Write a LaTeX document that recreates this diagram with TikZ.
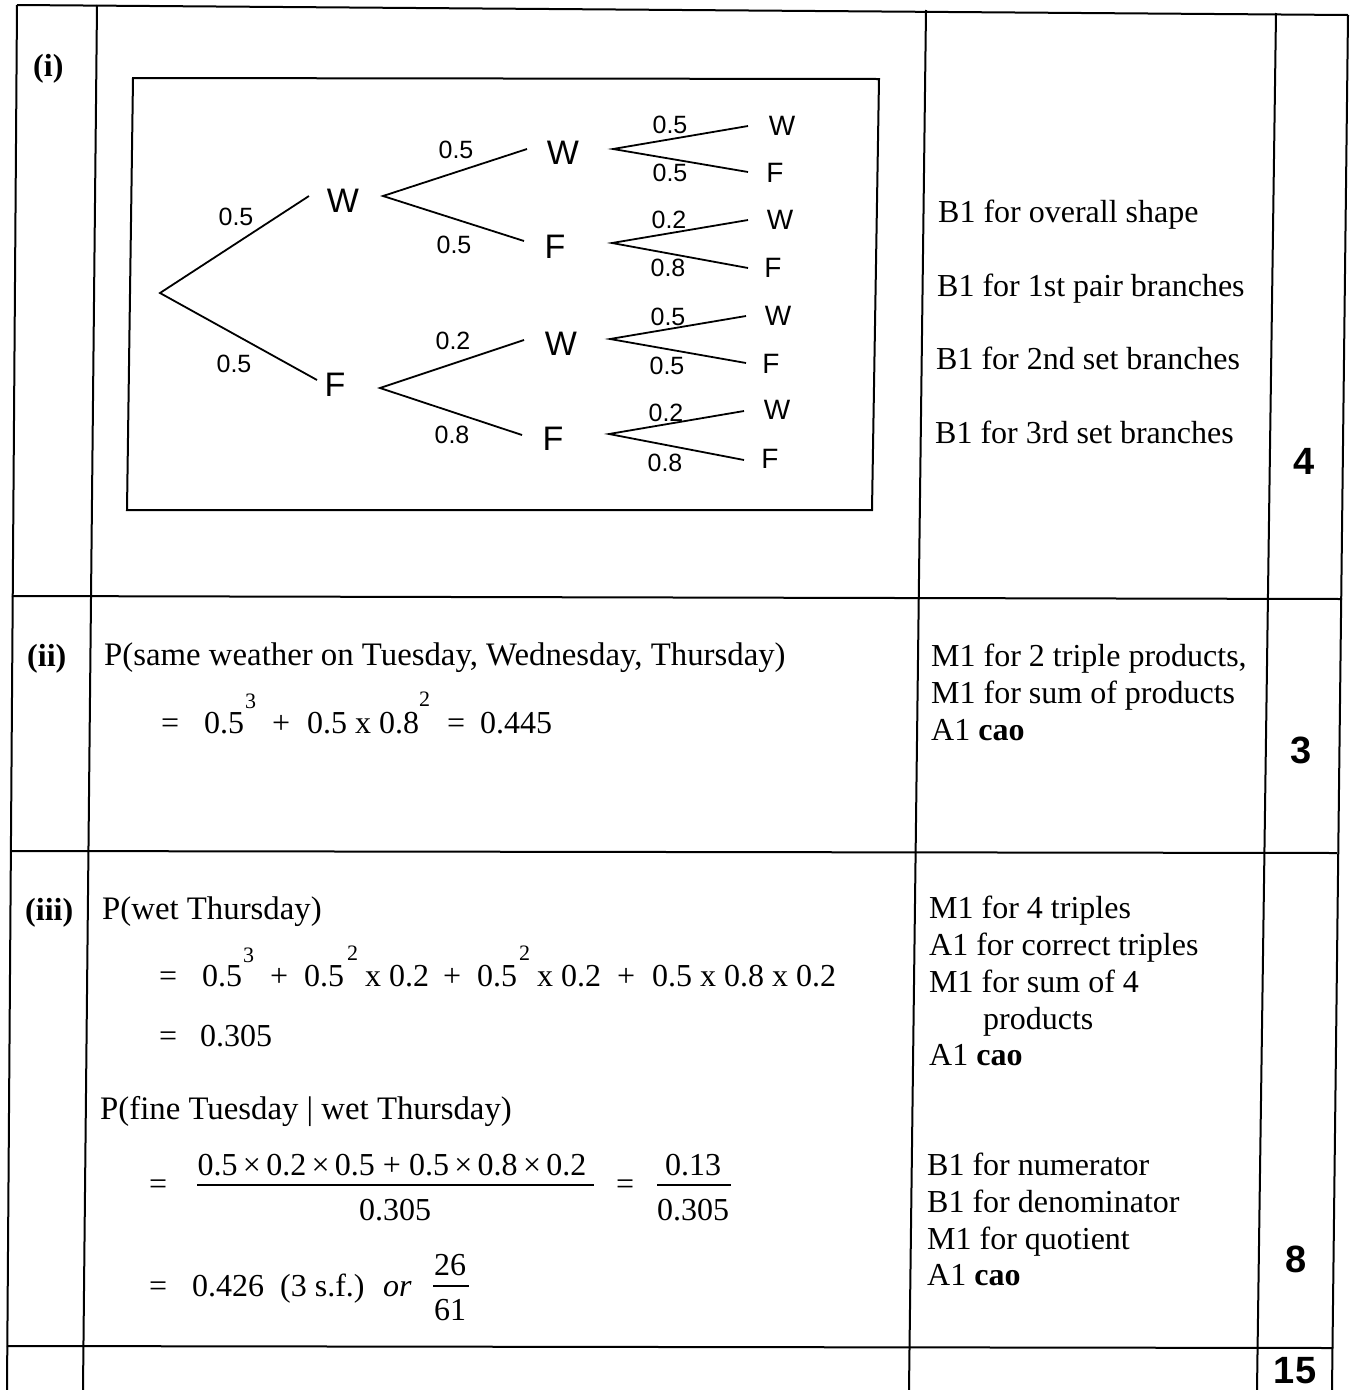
\documentclass[tikz,border=0pt]{standalone}
\usepackage{fontspec}
\setmainfont{Liberation Serif}
\newfontfamily\arial{Liberation Sans}
\begin{document}
\begin{tikzpicture}[x=1pt,y=-1pt,
  grid/.style={line width=2pt,black},
  br/.style={line width=1.8pt,black},
  tx/.style={anchor=base west,inner sep=0pt,font=\fontsize{32}{38}\selectfont},
  txl/.style={anchor=base west,inner sep=0pt,font=\fontsize{32.8}{38}\selectfont},
  txc/.style={anchor=base,inner sep=0pt,font=\fontsize{32}{38}\selectfont},
  sup/.style={anchor=base west,inner sep=0pt,font=\fontsize{22}{26}\selectfont},
  score/.style={anchor=base,inner sep=0pt,font=\arial\bfseries\fontsize{38}{44}\selectfont},
  lab/.style={inner sep=0pt,font=\arial\fontsize{25}{29}\selectfont},
  lt/.style={inner sep=0pt,font=\arial\fontsize{34}{40}\selectfont},
  lts/.style={inner sep=0pt,font=\arial\fontsize{28}{32}\selectfont}]
\useasboundingbox (0,0) rectangle (1351,1390);
\fill[white] (0,0) rectangle (1351,1390);
% ---- table grid ----
\draw[grid] (17,5) -- (7,1390);
\draw[grid] (97,5) -- (83,1390);
\draw[grid] (926,10) -- (909,1390);
\draw[grid] (1276,13) -- (1257,1390);
\draw[grid] (1348,15) -- (1332,1390);
\draw[grid] (17,5) -- (1348,15);
\draw[grid] (12,596) -- (1342,599);
\draw[grid] (11,851) -- (1337,853);
\draw[grid] (7,1346) -- (1333,1348);
% ---- part labels ----
\node[tx,font=\bfseries\fontsize{32}{38}\selectfont] (pi) at (33,76) {(i)};
\node[tx,font=\bfseries\fontsize{32}{38}\selectfont] (pii) at (27,666) {(ii)};
\node[tx,font=\bfseries\fontsize{32}{38}\selectfont] (piii) at (25,920) {(iii)};
% ---- tree box ----
\draw[line width=2pt] (133,78) -- (879,79) -- (872,510) -- (127,510) -- cycle;
% level 1
\coordinate (r) at (160,293);
\coordinate (e1) at (309,196);
\coordinate (e2) at (317,380);
\node[lt] (W1) at (343,201) {W};
\node[lt] (F1) at (335,385) {F};
\draw[br] (e1) -- (r) -- (e2);
\node[lab] (l1) at (236,217) {0.5};
\node[lab] (l2) at (234,364) {0.5};
% level 2
\coordinate (v1) at (383,196);
\coordinate (v2) at (380,388);
\coordinate (e11) at (527,149);
\coordinate (e12) at (524,241);
\coordinate (e21) at (524,340);
\coordinate (e22) at (522,435);
\draw[br] (e11) -- (v1) -- (e12);
\draw[br] (e21) -- (v2) -- (e22);
\node[lt] (W11) at (563,153) {W};
\node[lt] (F12) at (555,247) {F};
\node[lt] (W21) at (561,344) {W};
\node[lt] (F22) at (553,439) {F};
\node[lab] at (456,150) {0.5};
\node[lab] at (454,245) {0.5};
\node[lab] at (453,341) {0.2};
\node[lab] at (452,435) {0.8};
% level 3
\coordinate (u1) at (613,149);
\coordinate (u2) at (612,243);
\coordinate (u3) at (610,339);
\coordinate (u4) at (609,434);
\draw[br] (748,126) -- (u1) -- (748,172);
\draw[br] (748,220) -- (u2) -- (748,268);
\draw[br] (746,316) -- (u3) -- (746,363);
\draw[br] (744,411) -- (u4) -- (744,460);
\node[lts] at (782,126) {W};
\node[lts] at (775,173) {F};
\node[lts] at (780,220) {W};
\node[lts] at (773,268) {F};
\node[lts] at (778,316) {W};
\node[lts] at (771,364) {F};
\node[lts] at (777,410) {W};
\node[lts] at (770,459) {F};
\node[lab] at (670,125) {0.5};
\node[lab] at (670,173) {0.5};
\node[lab] at (669,220) {0.2};
\node[lab] at (668,268) {0.8};
\node[lab] at (668,317) {0.5};
\node[lab] at (667,366) {0.5};
\node[lab] at (666,413) {0.2};
\node[lab] at (665,463) {0.8};
% ---- right column (i) ----
\node[tx] (m1) at (938,222) {B1 for overall shape};
\node[tx] (m2) at (937,296) {B1 for 1st pair branches};
\node[tx] (m3) at (936,369) {B1 for 2nd set branches};
\node[tx] (m4) at (935,443) {B1 for 3rd set branches};
\node[score] (k1) at (1304,474) {4};
% ---- part (ii) ----
\node[txl] (q2) at (104,665) {P(same weather on Tuesday, Wednesday, Thursday)};
\node[tx] at (161,733) {=};
\node[tx] at (204,733) {0.5};
\node[sup] at (245,708) {3};
\node[tx] at (272,733) {+};
\node[tx] at (307,733) {0.5 x 0.8};
\node[sup] at (419,706) {2};
\node[tx] at (447,733) {=};
\node[tx] at (480,733) {0.445};
\node[tx] at (931,666) {M1 for 2 triple products,};
\node[tx] at (931,703) {M1 for sum of products};
\node[tx] at (931,740) {A1 \textbf{cao}};
\node[score] (k2) at (1301,763) {3};
% ---- part (iii) ----
\node[txl] (q3) at (102,919) {P(wet Thursday)};
\node[tx] at (159,986) {=};
\node[tx] at (202,986) {0.5};
\node[sup] at (243,962) {3};
\node[tx] at (270,986) {+};
\node[tx] at (304,986) {0.5};
\node[sup] at (347,960) {2};
\node[tx] at (365,986) {x 0.2};
\node[tx] at (443,986) {+};
\node[tx] at (477,986) {0.5};
\node[sup] at (519,960) {2};
\node[tx] at (537,986) {x 0.2};
\node[tx] at (617,986) {+};
\node[tx] at (652,986) {0.5 x 0.8 x 0.2};
\node[tx] at (159,1046) {=};
\node[tx] at (200,1046) {0.305};
\node[txl] (q4) at (100,1119) {P(fine Tuesday | wet Thursday)};
\node[tx] at (149,1194) {=};
\node[txc] at (392,1175) {0.5\,×\,0.2\,×\,0.5 + 0.5\,×\,0.8\,×\,0.2};
\draw[line width=1.6pt] (197,1185) -- (594,1185);
\node[txc] at (395,1220) {0.305};
\node[tx] at (616,1194) {=};
\node[txc] at (693,1175) {0.13};
\draw[line width=1.6pt] (657,1185) -- (731,1185);
\node[txc] at (693,1220) {0.305};
\node[tx] at (149,1296) {=};
\node[tx] at (192,1296) {0.426\ \ (3 s.f.)};
\node[tx] at (383,1296) {\itshape or};
\node[txc] at (450,1275) {26};
\draw[line width=1.6pt] (433,1286) -- (469,1286);
\node[txc] at (450,1320) {61};
\node[tx] at (929,918) {M1 for 4 triples};
\node[tx] at (929,955) {A1 for correct triples};
\node[tx] at (929,992) {M1 for sum of 4};
\node[tx] at (983,1029) {products};
\node[tx] at (929,1065) {A1 \textbf{cao}};
\node[tx] at (927,1175) {B1 for numerator};
\node[tx] at (927,1212) {B1 for denominator};
\node[tx] at (927,1249) {M1 for quotient};
\node[tx] at (927,1285) {A1 \textbf{cao}};
\node[score] (k3) at (1296,1272) {8};
\node[score] (k4) at (1295,1383) {15};
\end{tikzpicture}
\end{document}
